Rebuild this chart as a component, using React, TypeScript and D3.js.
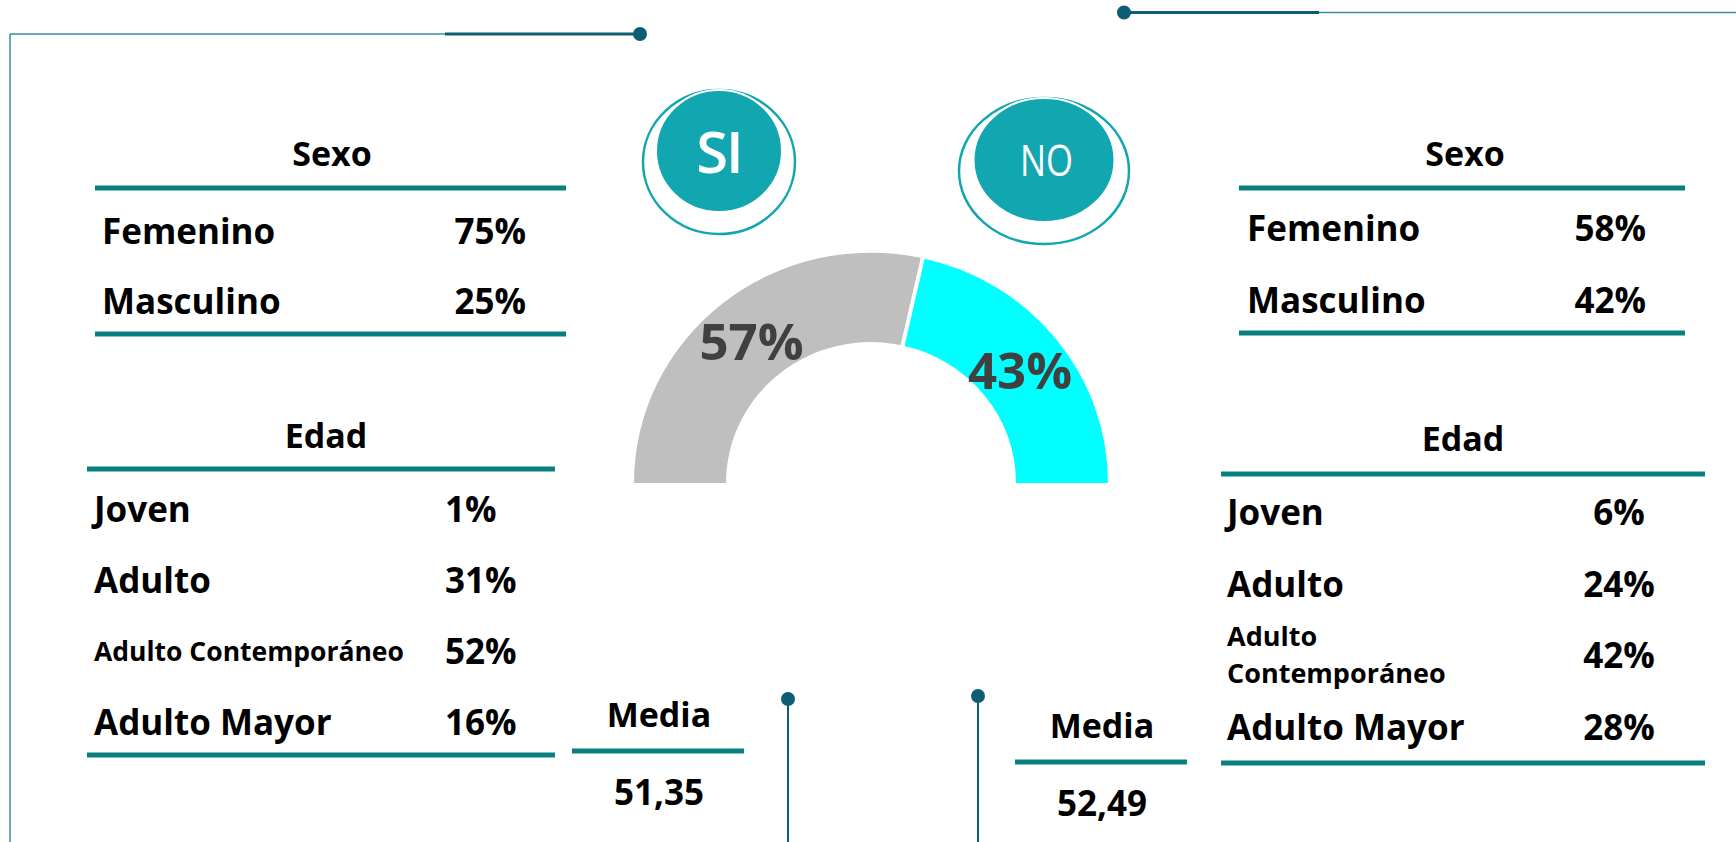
import React from "react";
import * as d3 from "d3";

// ---- data ----
const sexoCategories = ["Femenino", "Masculino"];
const sexoSi = [75, 25];
const sexoNo = [58, 42];
const edadCategories = ["Joven", "Adulto", "Adulto Contemporáneo", "Adulto Mayor"];
const edadSi = [1, 31, 52, 16];
const edadNo = [6, 24, 42, 28];
const groupLabels = ["SI", "NO"];
const gaugeValues = [57, 43];
const gaugeColors = ["#bfbfbf", "#00ffff"];
const mediaValues = [51.35, 52.49];
const sexoTitle = "Sexo";
const edadTitle = "Edad";
const mediaTitle = "Media";

const W = 1736;
const H = 842;
const FONT = "'Open Sans', sans-serif";
const TEAL = "#08807f";
const DARK = "#0d5e74";
const THIN = "#3b8ea2";
const BADGE = "#12a6b0";

const pct = (v: number) => `${v}%`;
const fmtMedia = (v: number) => d3.format(".2f")(v).replace(".", ",");

function Rule({ x1, x2, y }: { x1: number; x2: number; y: number }) {
  return <line x1={x1} x2={x2} y1={y} y2={y} stroke={TEAL} strokeWidth={5} />;
}

export default function App() {
  // gauge
  const pie = d3
    .pie<number>()
    .sort(null)
    .value((d) => d)
    .startAngle(-Math.PI / 2)
    .endAngle(Math.PI / 2);
  const arcs = pie(gaugeValues);
  const rIn = 145;
  const rOut = 237;
  const arc = d3.arc<d3.PieArcDatum<number>>().innerRadius(rIn).outerRadius(rOut);
  const gcx = 871;
  const gcy = 483;
  const sy = 0.972;
  const splitA = arcs[0].endAngle;

  // rows
  const ySexoL = d3.scalePoint<string>().domain(sexoCategories).range([244, 314]);
  const ySexoR = d3.scalePoint<string>().domain(sexoCategories).range([241, 313]);
  const yEdadL = d3.scalePoint<string>().domain(edadCategories).range([522, 735]);
  const yEdadR = d3.scalePoint<string>().domain(edadCategories).range([525, 740]);

  const labelStyle = { fontFamily: FONT, fontWeight: 700, fill: "#000" } as const;
  const ROW = 35;
  const HEAD = 34;

  return (
    <svg
      width={W}
      height={H}
      style={{ position: "absolute", left: 0, top: 0, background: "#fff" }}
    >
      {/* frame decorations */}
      <line x1={10} x2={10} y1={34} y2={H} stroke={THIN} strokeWidth={1.5} />
      <line x1={10} x2={640} y1={34} y2={34} stroke={THIN} strokeWidth={1.5} />
      <line x1={445} x2={640} y1={34} y2={34} stroke={DARK} strokeWidth={3} />
      <circle cx={640} cy={34} r={7} fill={DARK} />
      <line x1={1124} x2={W} y1={12.5} y2={12.5} stroke={THIN} strokeWidth={1.5} />
      <line x1={1124} x2={1319} y1={12.5} y2={12.5} stroke={DARK} strokeWidth={3} />
      <circle cx={1124} cy={12.5} r={7} fill={DARK} />
      <line x1={788} x2={788} y1={699} y2={H} stroke={DARK} strokeWidth={2} />
      <circle cx={788} cy={699} r={7} fill={DARK} />
      <line x1={978} x2={978} y1={696} y2={H} stroke={DARK} strokeWidth={2} />
      <circle cx={978} cy={696} r={7} fill={DARK} />

      {/* badges */}
      <ellipse cx={719} cy={162} rx={76} ry={72} fill="#fff" stroke={BADGE} strokeWidth={2.5} />
      <ellipse cx={719} cy={151} rx={63} ry={61} fill={BADGE} stroke="#fff" strokeWidth={2} />
      <text
        x={719}
        y={173}
        textAnchor="middle"
        fill="#fff"
        style={{ fontFamily: FONT, fontWeight: 600, fontSize: 58 }}
        letterSpacing={-2}
      >
        {groupLabels[0]}
      </text>
      <ellipse cx={1044} cy={171} rx={85} ry={73} fill="#fff" stroke={BADGE} strokeWidth={2.5} />
      <ellipse cx={1044} cy={160} rx={70.5} ry={62} fill={BADGE} stroke="#fff" strokeWidth={2} />
      <text
        x={1020}
        y={176}
        fill="#fff"
        textLength={53}
        lengthAdjust="spacingAndGlyphs"
        style={{ fontFamily: FONT, fontWeight: 400, fontSize: 44 }}
      >
        {groupLabels[1]}
      </text>

      {/* gauge */}
      <g transform={`translate(${gcx},${gcy}) scale(1,${sy})`}>
        {arcs.map((a, i) => (
          <path key={i} d={arc(a) || ""} fill={gaugeColors[i]} />
        ))}
        <line
          x1={(rIn - 4) * Math.sin(splitA)}
          y1={-(rIn - 4) * Math.cos(splitA)}
          x2={(rOut + 4) * Math.sin(splitA)}
          y2={-(rOut + 4) * Math.cos(splitA)}
          stroke="#fff"
          strokeWidth={4}
        />
      </g>
      {arcs.map((a, i) => {
        const [cx, cy] = arc.centroid(a);
        return (
          <text
            key={i}
            x={gcx + cx}
            y={gcy + cy * sy + 22}
            textAnchor="middle"
            fill="#404040"
            style={{ fontFamily: FONT, fontWeight: 700, fontSize: 51 }}
          >
            {pct(gaugeValues[i])}
          </text>
        );
      })}

      {/* left Sexo */}
      <text x={332} y={166} textAnchor="middle" style={{ ...labelStyle, fontSize: HEAD }}>
        {sexoTitle}
      </text>
      <Rule x1={95} x2={566} y={188} />
      {sexoCategories.map((c, i) => (
        <g key={c}>
          <text x={102} y={ySexoL(c)} style={{ ...labelStyle, fontSize: ROW }}>
            {c}
          </text>
          <text x={526} y={ySexoL(c)} textAnchor="end" style={{ ...labelStyle, fontSize: ROW }}>
            {pct(sexoSi[i])}
          </text>
        </g>
      ))}
      <Rule x1={95} x2={566} y={334} />

      {/* left Edad */}
      <text x={326} y={448} textAnchor="middle" style={{ ...labelStyle, fontSize: HEAD }}>
        {edadTitle}
      </text>
      <Rule x1={87} x2={555} y={469} />
      {edadCategories.map((c, i) => (
        <g key={c}>
          <text
            x={94}
            y={(yEdadL(c) as number) - (i === 2 ? 3 : 0)}
            style={{ ...labelStyle, fontSize: i === 2 ? 26.5 : ROW }}
          >
            {c}
          </text>
          <text x={445} y={yEdadL(c)} style={{ ...labelStyle, fontSize: ROW }}>
            {pct(edadSi[i])}
          </text>
        </g>
      ))}
      <Rule x1={87} x2={555} y={755} />

      {/* Media left */}
      <text x={659} y={727} textAnchor="middle" style={{ ...labelStyle, fontSize: HEAD }}>
        {mediaTitle}
      </text>
      <Rule x1={572} x2={744} y={751} />
      <text x={659} y={805} textAnchor="middle" style={{ ...labelStyle, fontSize: ROW }}>
        {fmtMedia(mediaValues[0])}
      </text>

      {/* Media right */}
      <text x={1102} y={738} textAnchor="middle" style={{ ...labelStyle, fontSize: HEAD }}>
        {mediaTitle}
      </text>
      <Rule x1={1015} x2={1187} y={762} />
      <text x={1102} y={816} textAnchor="middle" style={{ ...labelStyle, fontSize: ROW }}>
        {fmtMedia(mediaValues[1])}
      </text>

      {/* right Sexo */}
      <text x={1465} y={166} textAnchor="middle" style={{ ...labelStyle, fontSize: HEAD }}>
        {sexoTitle}
      </text>
      <Rule x1={1239} x2={1685} y={188} />
      {sexoCategories.map((c, i) => (
        <g key={c}>
          <text x={1247} y={ySexoR(c)} style={{ ...labelStyle, fontSize: ROW }}>
            {c}
          </text>
          <text x={1646} y={ySexoR(c)} textAnchor="end" style={{ ...labelStyle, fontSize: ROW }}>
            {pct(sexoNo[i])}
          </text>
        </g>
      ))}
      <Rule x1={1239} x2={1685} y={333} />

      {/* right Edad */}
      <text x={1463} y={451} textAnchor="middle" style={{ ...labelStyle, fontSize: HEAD }}>
        {edadTitle}
      </text>
      <Rule x1={1221} x2={1705} y={474} />
      {edadCategories.map((c, i) => {
        const y = yEdadR(c) as number;
        const words = i === 2 ? c.split(" ") : [c];
        return (
          <g key={c}>
            {i === 2 ? (
              <text style={{ ...labelStyle, fontSize: 27 }}>
                <tspan x={1227} y={y - 22}>
                  {words[0]}
                </tspan>
                <tspan x={1227} y={y + 15}>
                  {words[1]}
                </tspan>
              </text>
            ) : (
              <text x={1227} y={y} style={{ ...labelStyle, fontSize: ROW }}>
                {c}
              </text>
            )}
            <text x={1619} y={y} textAnchor="middle" style={{ ...labelStyle, fontSize: ROW }}>
              {pct(edadNo[i])}
            </text>
          </g>
        );
      })}
      <Rule x1={1221} x2={1705} y={763} />
    </svg>
  );
}
